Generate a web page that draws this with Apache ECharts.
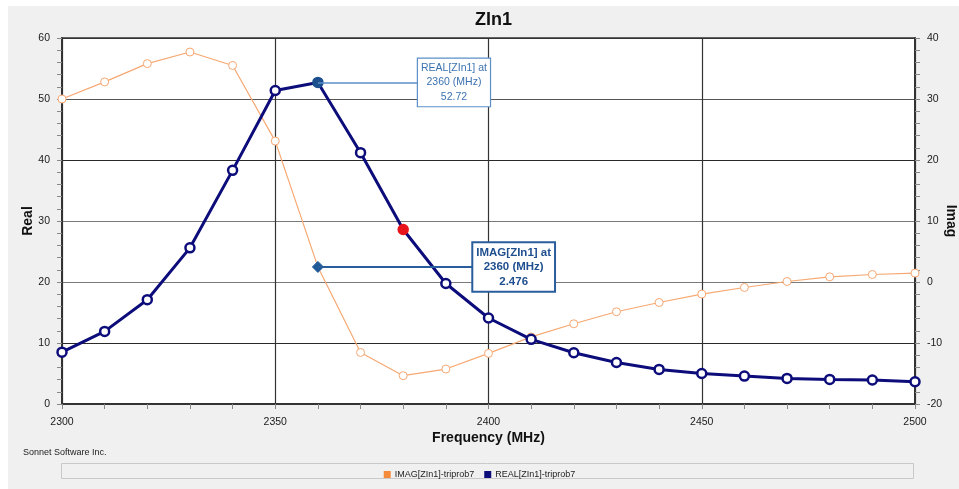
<!DOCTYPE html>
<html>
<head>
<meta charset="utf-8">
<script src="https://cdn.jsdelivr.net/npm/echarts@6/dist/echarts.min.js"></script>
<style>
html,body{margin:0;padding:0;background:#fff;}
#chart{width:959px;height:489px;}
</style>
</head>
<body>
<div id="chart"></div>
<script>
// ---- data ----
var freqs = [2300,2310,2320,2330,2340,2350,2360,2370,2380,2390,2400,2410,2420,2430,2440,2450,2460,2470,2480,2490,2500];
var realVals = [8.5,11.9,17.1,25.6,38.3,51.4,52.72,41.2,28.6,19.75,14.1,10.6,8.4,6.8,5.67,5.0,4.58,4.2,4.03,3.93,3.65];
var imagVals = [30.0,32.8,35.8,37.7,35.5,23.1,2.476,-11.55,-15.36,-14.27,-11.7,-9.0,-6.85,-4.88,-3.36,-1.98,-0.9,0.08,0.85,1.23,1.46];
var realName = 'REAL[ZIn1]-triprob7';
var imagName = 'IMAG[ZIn1]-triprob7';
var probeFreq = 2360;        // marker / callout frequency
var redFreq = 2380;          // red marker
var realCallout = {lineEnd: 2383.7, boxCenter: 2391.9};
var imagCallout = {lineEnd: 2396.4, boxCenter: 2405.9};
var xTicks = {min: 2300, max: 2500, interval: 50};
var realTicks = {min: 0, max: 60, interval: 10};
var imagTicks = {min: -20, max: 40, interval: 10};

var NAVY = '#0c0c7a';
var ORANGE = '#f6a872';

var probeIdx = freqs.indexOf(probeFreq);
var redIdx = freqs.indexOf(redFreq);
var realProbe = realVals[probeIdx];
var imagProbe = imagVals[probeIdx];

var realData = freqs.map(function(f,i){
  var d = {value:[f, realVals[i]]};
  if (i === probeIdx) d.itemStyle = {color:'#1b4f8e', borderColor:'#1b4f8e'};
  if (i === redIdx) d.itemStyle = {color:'#e8141c', borderColor:'#e8141c'};
  return d;
});
var imagData = freqs.map(function(f,i){
  var d = {value:[f, imagVals[i]]};
  if (i === probeIdx) { d.symbol = 'diamond'; d.symbolSize = 11; d.itemStyle = {color:'#1f5a98', borderColor:'#1f5a98', borderWidth:1}; }
  return d;
});

var FONT = 'Liberation Sans';
var plain = function(v){ return String(v); };
var chart = echarts.init(document.getElementById('chart'), null, {renderer:'canvas'});

var option = {
  backgroundColor: '#ffffff',
  animation: false,
  graphic: [
    {type:'rect', z:-10, shape:{x:8,y:6,width:951,height:483}, style:{fill:'#f0f0f0'}},
    {type:'rect', z:-5, shape:{x:61.5,y:463.5,width:852,height:15}, style:{fill:'#f0f0f0', stroke:'#c9c9c9', lineWidth:1}},
    {type:'text', left:23, top:448, style:{text:'Sonnet Software Inc.', font:'9px "Liberation Sans"', fill:'#222'}}
  ],
  title: {
    text: 'ZIn1', left: 488.5, top: 6, textAlign: 'center',
    textStyle: {fontFamily: FONT, fontWeight: 'bold', fontSize: 18, color: '#111'}
  },
  legend: {
    data: [
      {name: imagName, itemStyle:{color:'#f58a3a', borderWidth:0}},
      {name: realName, itemStyle:{color:'#0c0c7a', borderWidth:0}}
    ],
    icon: 'rect', itemWidth: 7, itemHeight: 7, itemGap: 10,
    left: 'center', top: 465,
    textStyle: {fontFamily: FONT, fontSize: 9, color: '#222', padding:[0,0,0,-1]}
  },
  grid: {left: 62, right: 44, top: 38, bottom: 85, show: true, backgroundColor: '#ffffff', borderColor: '#333', borderWidth: 1.5, containLabel: false, outerBoundsMode: 'none'},
  xAxis: {
    type: 'value', min: xTicks.min, max: xTicks.max, interval: xTicks.interval,
    name: 'Frequency (MHz)', nameLocation: 'middle', nameGap: 27, nameMoveOverlap: false,
    nameTextStyle: {fontFamily: FONT, fontWeight: 'bold', fontSize: 14, color: '#111'},
    axisLine: {show: true, lineStyle: {color: '#333', width: 2}},
    axisTick: {show: true, length: 5, lineStyle: {color: '#888'}},
    minorTick: {show: true, splitNumber: 5, length: 5, lineStyle: {color: '#888'}},
    axisLabel: {fontFamily: FONT, fontSize: 10.5, color: '#1a1a1a', margin: 13, formatter: plain},
    splitLine: {show: true, lineStyle: {color: '#333', width: 1.2}}
  },
  yAxis: [
    {
      type: 'value', position: 'left', min: realTicks.min, max: realTicks.max, interval: realTicks.interval,
      name: 'Real', nameLocation: 'middle', nameGap: 27, nameRotate: 90, nameMoveOverlap: false,
      nameTextStyle: {fontFamily: FONT, fontWeight: 'bold', fontSize: 14, color: '#111'},
      axisLine: {show: true, lineStyle: {color: '#333', width: 2}},
      axisTick: {show: true, length: 5, lineStyle: {color: '#888'}},
      minorTick: {show: true, splitNumber: 5, length: 5, lineStyle: {color: '#888'}},
      axisLabel: {fontFamily: FONT, fontSize: 10.5, color: '#1a1a1a', margin: 12, formatter: plain},
      splitLine: {show: true, lineStyle: {color: ['#333','#2a2a2a','#7a7a7a','#7a7a7a','#2a2a2a','#555','#333'], width: 1.2}}
    },
    {
      type: 'value', position: 'right', min: imagTicks.min, max: imagTicks.max, interval: imagTicks.interval,
      name: 'Imag', nameLocation: 'middle', nameGap: 29, nameRotate: -90, nameMoveOverlap: false,
      nameTextStyle: {fontFamily: FONT, fontWeight: 'bold', fontSize: 14, color: '#111'},
      axisLine: {show: true, lineStyle: {color: '#333', width: 2}},
      axisTick: {show: true, length: 5, lineStyle: {color: '#888'}},
      minorTick: {show: true, splitNumber: 5, length: 5, lineStyle: {color: '#888'}},
      axisLabel: {fontFamily: FONT, fontSize: 10.5, color: '#1a1a1a', margin: 12, formatter: plain},
      splitLine: {show: false}
    }
  ],
  series: [
    {
      name: imagName, type: 'line', yAxisIndex: 1, data: imagData,
      symbol: 'circle', symbolSize: 8,
      itemStyle: {color: '#ffffff', borderColor: ORANGE, borderWidth: 1},
      lineStyle: {color: ORANGE, width: 1.2},
      emphasis: {disabled: true},
      markLine: {
        silent: true, symbol: 'none', animation: false,
        lineStyle: {color: '#2a5d9c', width: 2, type: 'solid'},
        label: {show: false},
        data: [[{coord: [probeFreq, imagProbe]}, {coord: [imagCallout.lineEnd, imagProbe]}]]
      },
      markPoint: {
        silent: true, animation: false,
        data: [{
          coord: [imagCallout.boxCenter, imagProbe], symbol: 'rect', symbolSize: 1,
          itemStyle: {color: 'rgba(0,0,0,0)'},
          label: {
            show: true, position: 'inside', align: 'center', verticalAlign: 'middle',
            formatter: 'IMAG[ZIn1] at\n' + probeFreq + ' (MHz)\n' + imagProbe,
            fontFamily: FONT, fontWeight: 'bold', fontSize: 11.5, lineHeight: 14.5, color: '#1f4f8f',
            backgroundColor: '#ffffff', borderColor: '#2a5d9c', borderWidth: 2, padding: [2, 3, 2, 3]
          }
        }]
      },
      z: 2
    },
    {
      name: realName, type: 'line', yAxisIndex: 0, data: realData,
      symbol: 'circle', symbolSize: 9,
      itemStyle: {color: '#ffffff', borderColor: NAVY, borderWidth: 2.5},
      lineStyle: {color: NAVY, width: 3},
      emphasis: {disabled: true},
      markLine: {
        silent: true, symbol: 'none', animation: false,
        lineStyle: {color: '#5b8fc7', width: 1.5, type: 'solid'},
        label: {show: false},
        data: [[{coord: [probeFreq, realProbe]}, {coord: [realCallout.lineEnd, realProbe]}]]
      },
      markPoint: {
        silent: true, animation: false,
        data: [{
          coord: [realCallout.boxCenter, realProbe], symbol: 'rect', symbolSize: 1,
          itemStyle: {color: 'rgba(0,0,0,0)'},
          label: {
            show: true, position: 'inside', align: 'center', verticalAlign: 'middle',
            formatter: 'REAL[ZIn1] at\n' + probeFreq + ' (MHz)\n' + realProbe,
            fontFamily: FONT, fontSize: 10.5, lineHeight: 14.5, color: '#3b72b0',
            backgroundColor: '#ffffff', borderColor: '#5b8fc7', borderWidth: 1.2, padding: [2, 3, 2, 3]
          }
        }]
      },
      z: 3
    }
  ]
};
chart.setOption(option);
</script>
</body>
</html>
